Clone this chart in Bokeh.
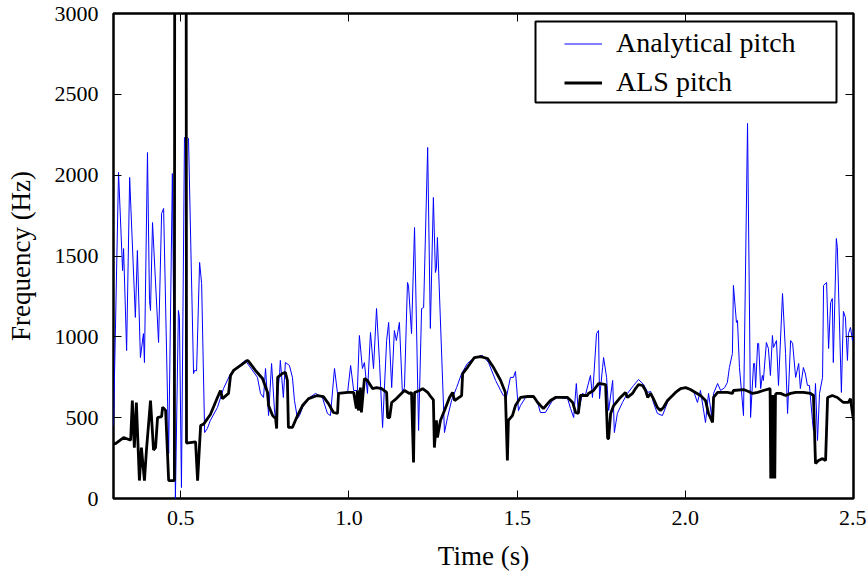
from bokeh.plotting import figure
from bokeh.models import (FixedTicker, LinearAxis, Legend, LegendItem, BoxAnnotation,
                          Range1d, NumeralTickFormatter, CustomJSTickFormatter)
from bokeh.embed import file_html
from bokeh.resources import INLINE

# ---------------- data ----------------
als_t = [0.300, 0.306, 0.330, 0.351, 0.356, 0.362, 0.368, 0.377, 0.383, 0.392,
         0.398, 0.410, 0.419, 0.425, 0.431, 0.443, 0.446, 0.455, 0.464, 0.481,
         0.482, 0.516, 0.517, 0.544, 0.550, 0.559, 0.568, 0.588, 0.609, 0.618,
         0.624, 0.642, 0.648, 0.657, 0.678, 0.698, 0.701, 0.722, 0.743, 0.758,
         0.761, 0.773, 0.782, 0.785, 0.788, 0.802, 0.811, 0.817, 0.820, 0.832,
         0.847, 0.862, 0.880, 0.906, 0.924, 0.939, 0.954, 0.966, 0.969, 0.996,
         1.014, 1.022, 1.025, 1.028, 1.034, 1.037, 1.046, 1.055, 1.070, 1.082,
         1.097, 1.112, 1.115, 1.121, 1.127, 1.141, 1.150, 1.165, 1.180, 1.186,
         1.192, 1.195, 1.210, 1.219, 1.234, 1.245, 1.251, 1.254, 1.260, 1.263,
         1.272, 1.284, 1.299, 1.308, 1.314, 1.335, 1.338, 1.352, 1.373, 1.391,
         1.412, 1.430, 1.451, 1.465, 1.471, 1.474, 1.486, 1.495, 1.510, 1.531,
         1.549, 1.561, 1.578, 1.599, 1.614, 1.650, 1.665, 1.674, 1.682, 1.688,
         1.709, 1.712, 1.727, 1.742, 1.748, 1.763, 1.769, 1.772, 1.778, 1.787,
         1.807, 1.822, 1.828, 1.843, 1.852, 1.861, 1.873, 1.882, 1.888, 1.897,
         1.905, 1.917, 1.926, 1.935, 1.947, 1.962, 1.971, 1.986, 2.001, 2.015,
         2.030, 2.045, 2.060, 2.069, 2.081, 2.084, 2.096, 2.125, 2.140, 2.143,
         2.173, 2.188, 2.200, 2.215, 2.232, 2.252, 2.254, 2.256, 2.258, 2.260,
         2.262, 2.264, 2.266, 2.268, 2.270, 2.283, 2.298, 2.313, 2.328, 2.351,
         2.372, 2.381, 2.387, 2.396, 2.408, 2.417, 2.423, 2.437, 2.452, 2.470,
         2.485, 2.491, 2.500]
als_f = [340, 340, 377, 360, 606, 315, 593, 111, 315, 111,
         300, 606, 300, 315, 500, 507, 565, 545, 111, 111,
         3500, 3500, 343, 350, 111, 451, 460, 520, 625, 668,
         618, 650, 761, 792, 823, 854, 850, 792, 742, 656,
         575, 513, 494, 433, 749, 773, 780, 730, 440, 440,
         513, 575, 618, 637, 630, 587, 532, 526, 650, 656,
         656, 556, 668, 544, 686, 532, 742, 730, 680, 686,
         680, 656, 501, 501, 594, 618, 637, 668, 650, 656,
         223, 656, 668, 680, 656, 625, 610, 315, 483, 377,
         483, 544, 625, 656, 606, 637, 773, 810, 872, 878,
         866, 810, 730, 656, 235, 483, 513, 575, 625, 631,
         631, 594, 556, 606, 625, 625, 594, 532, 526, 637,
         637, 650, 668, 711, 711, 705, 371, 371, 526, 575,
         625, 656, 625, 650, 680, 705, 699, 668, 625, 650,
         618, 563, 544, 563, 606, 637, 656, 680, 686, 674,
         656, 637, 606, 526, 470, 625, 656, 656, 650, 668,
         674, 662, 650, 656, 668, 680, 124, 640, 124, 640,
         124, 640, 124, 640, 650, 650, 637, 650, 656, 656,
         650, 637, 216, 235, 247, 235, 625, 637, 625, 594,
         594, 618, 483]

ana_t = [0.300, 0.315, 0.327, 0.330, 0.339, 0.348, 0.365, 0.371, 0.380, 0.389,
         0.392, 0.401, 0.407, 0.410, 0.416, 0.434, 0.443, 0.449, 0.464, 0.475,
         0.484, 0.493, 0.496, 0.502, 0.511, 0.520, 0.523, 0.538, 0.541, 0.547,
         0.556, 0.562, 0.571, 0.579, 0.588, 0.609, 0.627, 0.648, 0.663, 0.692,
         0.728, 0.737, 0.746, 0.752, 0.761, 0.770, 0.779, 0.782, 0.794, 0.796,
         0.805, 0.811, 0.823, 0.832, 0.838, 0.847, 0.853, 0.862, 0.883, 0.901,
         0.921, 0.936, 0.945, 0.957, 0.966, 0.987, 0.996, 1.005, 1.014, 1.025,
         1.031, 1.040, 1.046, 1.055, 1.064, 1.073, 1.082, 1.091, 1.100, 1.112,
         1.118, 1.127, 1.135, 1.141, 1.150, 1.159, 1.165, 1.174, 1.177, 1.186,
         1.195, 1.207, 1.216, 1.222, 1.234, 1.242, 1.251, 1.257, 1.260, 1.263,
         1.284, 1.293, 1.305, 1.320, 1.335, 1.352, 1.373, 1.397, 1.415, 1.436,
         1.451, 1.459, 1.468, 1.480, 1.489, 1.495, 1.504, 1.510, 1.525, 1.546,
         1.561, 1.569, 1.584, 1.605, 1.620, 1.650, 1.659, 1.668, 1.676, 1.682,
         1.694, 1.703, 1.718, 1.724, 1.736, 1.742, 1.745, 1.754, 1.757, 1.766,
         1.772, 1.784, 1.789, 1.798, 1.813, 1.828, 1.846, 1.861, 1.876, 1.888,
         1.897, 1.905, 1.917, 1.932, 1.947, 1.965, 1.986, 2.006, 2.024, 2.036,
         2.045, 2.060, 2.069, 2.078, 2.084, 2.096, 2.105, 2.117, 2.125, 2.131,
         2.140, 2.143, 2.152, 2.155, 2.161, 2.173, 2.185, 2.194, 2.203, 2.206,
         2.209, 2.215, 2.218, 2.224, 2.229, 2.232, 2.241, 2.247, 2.253, 2.259,
         2.262, 2.271, 2.277, 2.289, 2.298, 2.304, 2.313, 2.319, 2.328, 2.337,
         2.342, 2.351, 2.357, 2.363, 2.369, 2.378, 2.381, 2.387, 2.393, 2.399,
         2.408, 2.411, 2.420, 2.426, 2.432, 2.437, 2.440, 2.449, 2.452, 2.464,
         2.470, 2.476, 2.482, 2.485, 2.491, 2.497, 2.500]
ana_f = [450, 2017, 1410, 1546, 915, 1986, 1120, 1534, 872, 1020,
         841, 2140, 1225, 1163, 1707, 965, 1763, 1794, 278, 2010,
         0, 1163, 1120, 68, 2233, 2233, 2227, 773, 792, 790,
         1460, 1330, 408, 433, 483, 563, 680, 773, 804, 854,
         749, 650, 625, 804, 513, 835, 532, 501, 780, 854,
         625, 841, 823, 749, 606, 494, 513, 563, 625, 650,
         625, 526, 513, 804, 650, 650, 656, 823, 668, 668,
         1008, 804, 841, 650, 1027, 804, 1175, 835, 439, 977,
         1089, 686, 1039, 977, 1089, 650, 686, 1336, 1318, 1020,
         1676, 421, 1175, 1181, 2171, 1052, 1862, 1398, 1423, 1615,
         408, 501, 606, 686, 773, 835, 872, 885, 841, 730,
         668, 637, 625, 749, 749, 786, 544, 575, 625, 631,
         594, 532, 532, 606, 625, 618, 556, 501, 711, 526,
         650, 640, 761, 625, 1020, 1039, 618, 810, 872, 749,
         544, 730, 408, 526, 594, 650, 699, 736, 705, 656,
         662, 594, 526, 513, 594, 650, 686, 686, 668, 594,
         668, 470, 650, 513, 650, 711, 668, 686, 718, 810,
         897, 1318, 1089, 1101, 810, 513, 2320, 501, 835, 835,
         686, 959, 959, 680, 761, 730, 965, 928, 761, 1008,
         934, 977, 699, 1268, 897, 526, 977, 960, 749, 835,
         680, 810, 770, 700, 699, 483, 421, 711, 359, 650,
         749, 1318, 1336, 928, 1212, 1237, 841, 1608, 1553, 656,
         1157, 1120, 854, 1020, 1058, 977, 1039]

x_ticks = [0.5, 1.0, 1.5, 2.0, 2.5]
y_ticks = [0, 500, 1000, 1500, 2000, 2500, 3000]
series_labels = ["Analytical pitch", "ALS pitch"]

FONT = "Liberation Serif"

p = figure(frame_width=740, frame_height=485, output_backend="svg", toolbar_location=None,
           x_range=Range1d(0.3, 2.5), y_range=Range1d(0, 3000),
           min_border_left=113, min_border_right=13, min_border_top=13, min_border_bottom=68,
           background_fill_color="white", border_fill_color="white")

p.grid.visible = False
p.outline_line_color = "black"
p.outline_line_width = 2.5
p.outline_line_alpha = 1.0

for ax in (p.xaxis[0], p.yaxis[0]):
    ax.axis_line_color = None
    ax.major_tick_in = 8
    ax.major_tick_out = 0
    ax.minor_tick_line_color = None
    ax.major_tick_line_color = "black"
    ax.major_tick_line_width = 1
    ax.major_label_text_font = FONT
    ax.major_label_text_font_size = "22px"
    ax.major_label_text_color = "black"
    ax.axis_label_text_font = FONT
    ax.axis_label_text_font_size = "27px"
    ax.axis_label_text_font_style = "normal"
    ax.axis_label_text_color = "black"

p.xaxis.ticker = FixedTicker(ticks=x_ticks)
p.xaxis.formatter = NumeralTickFormatter(format="0.0")
p.yaxis.ticker = FixedTicker(ticks=y_ticks)
p.xaxis.axis_label = "Time (s)"
p.yaxis.axis_label = "Frequency (Hz)"
p.xaxis.major_label_standoff = 12
p.yaxis.major_label_standoff = 15
p.xaxis.axis_label_standoff = 13
p.yaxis.axis_label_standoff = 16

blank = CustomJSTickFormatter(code="return ''")
top_ax = LinearAxis(ticker=FixedTicker(ticks=x_ticks), formatter=blank,
                    axis_line_color=None, major_tick_in=8, major_tick_out=0,
                    minor_tick_line_color=None, major_label_standoff=0,
                    major_label_text_font_size="1px")
right_ax = LinearAxis(ticker=FixedTicker(ticks=y_ticks), formatter=blank,
                      axis_line_color=None, major_tick_in=8, major_tick_out=0,
                      minor_tick_line_color=None, major_label_standoff=0,
                      major_label_text_font_size="1px")
p.add_layout(top_ax, "above")
p.add_layout(right_ax, "right")

blue = p.line(ana_t, ana_f, line_color="#0000ff", line_width=1)
black = p.line(als_t, als_f, line_color="black", line_width=2.8)

box = BoxAnnotation(left=422, right=723, top=477, bottom=396,
                    left_units="screen", right_units="screen",
                    top_units="screen", bottom_units="screen",
                    fill_color="white", fill_alpha=1.0,
                    line_color="black", line_width=2, line_alpha=1.0)
p.add_layout(box)

legend = Legend(items=[LegendItem(label=series_labels[0], renderers=[blue]),
                       LegendItem(label=series_labels[1], renderers=[black])],
                location=(451, 400), padding=0, margin=0, spacing=7,
                glyph_width=38, glyph_height=31, label_standoff=14,
                label_text_font=FONT, label_text_font_size="28px",
                label_text_color="black",
                border_line_color=None, background_fill_alpha=0)
p.add_layout(legend)

open("out.html", "w").write(file_html(p, INLINE))
